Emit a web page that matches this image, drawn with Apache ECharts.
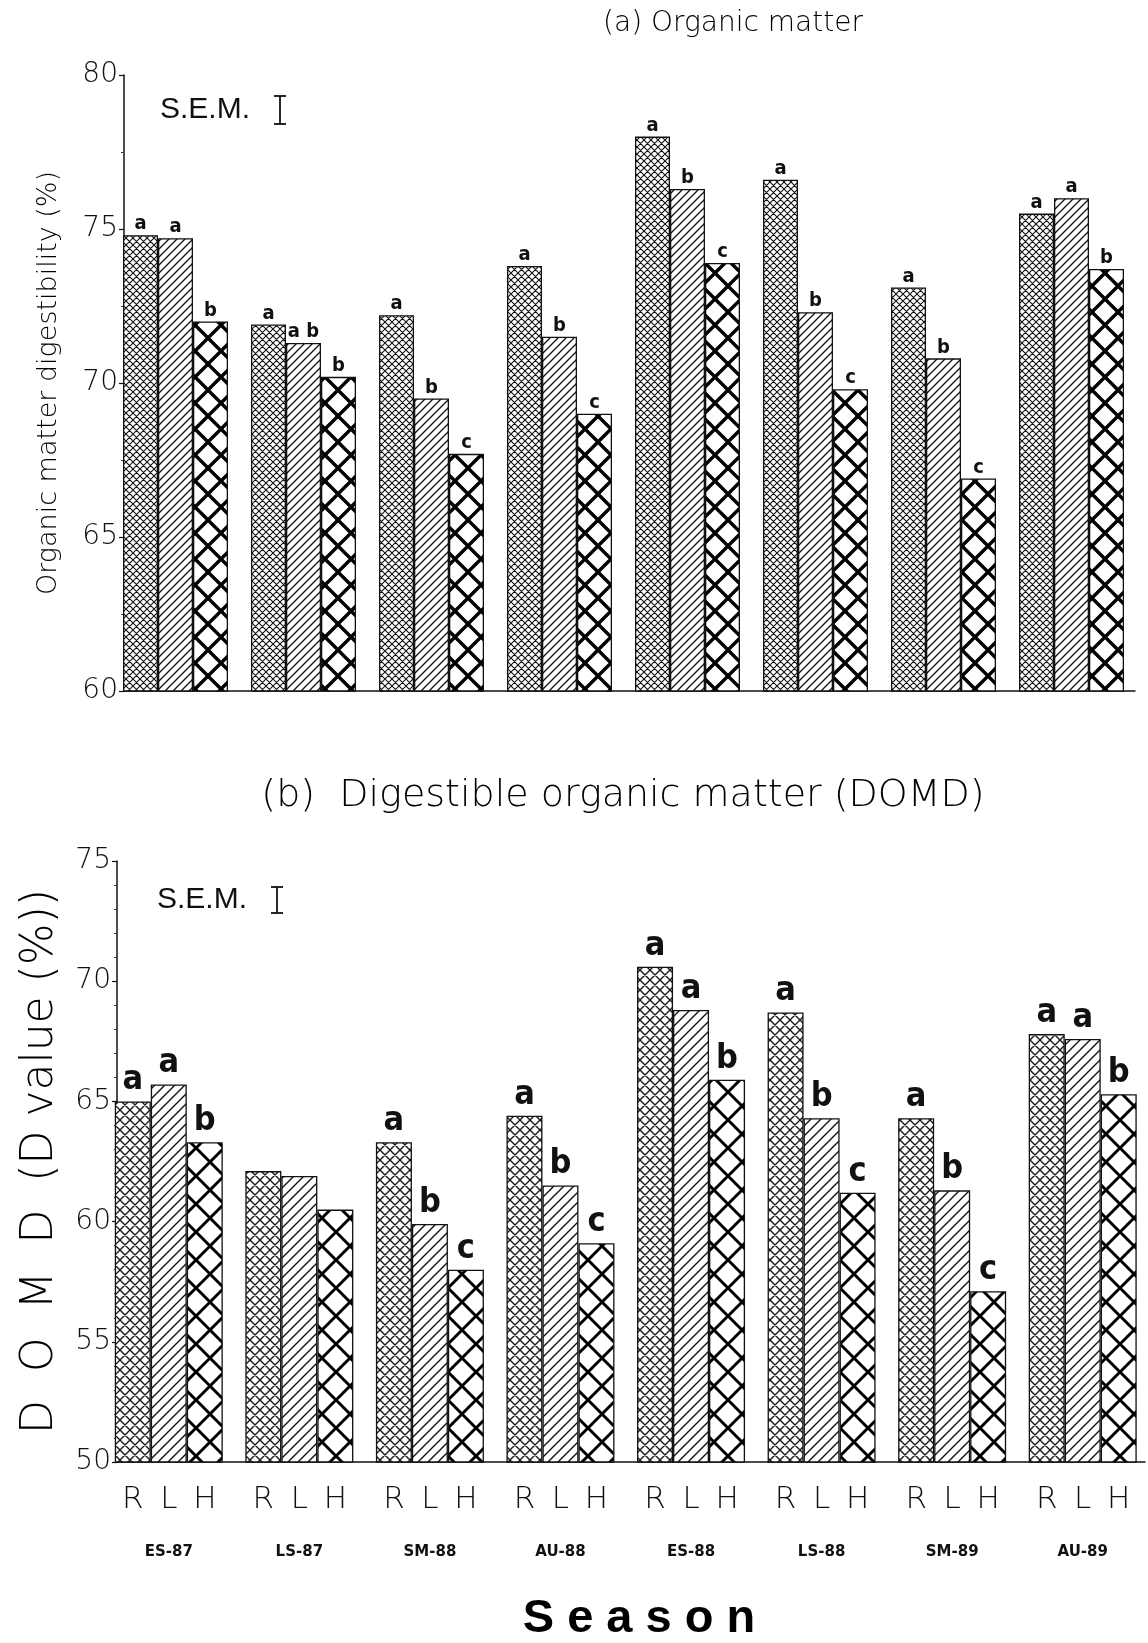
<!DOCTYPE html>
<html>
<head>
<meta charset="utf-8">
<script src="https://cdn.jsdelivr.net/npm/echarts@6/dist/echarts.min.js"></script>
<style>
  html, body { margin: 0; padding: 0; background: #fff; }
  #chart { width: 1148px; height: 1643px; }
</style>
</head>
<body>
<div id="chart"></div>
<script>
// Seasons and treatments
const seasons = ['ES-87', 'LS-87', 'SM-88', 'AU-88', 'ES-88', 'LS-88', 'SM-89', 'AU-89'];
const treatments = ['R', 'L', 'H'];

// (a) Organic matter digestibility (%)
const omdR = [74.8, 71.9, 72.2, 73.8, 78.0, 76.6, 73.1, 75.5];
const omdL = [74.7, 71.3, 69.5, 71.5, 76.3, 72.3, 70.8, 76.0];
const omdH = [72.0, 70.2, 67.7, 69.0, 73.9, 69.8, 66.9, 73.7];
const omdLetterR = ['a', 'a', 'a', 'a', 'a', 'a', 'a', 'a'];
const omdLetterL = ['a', 'a b', 'b', 'b', 'b', 'b', 'b', 'a'];
const omdLetterH = ['b', 'b', 'c', 'c', 'c', 'c', 'c', 'b'];
const omdAxis = { min: 60, max: 80, step: 5 };

// (b) DOMD (D value, %)
const domdR = [65.0, 62.1, 63.3, 64.4, 70.6, 68.7, 64.3, 67.8];
const domdL = [65.7, 61.9, 59.9, 61.5, 68.8, 64.3, 61.3, 67.6];
const domdH = [63.3, 60.5, 58.0, 59.1, 65.9, 61.2, 57.1, 65.3];
const domdLetterR = ['a', '', 'a', 'a', 'a', 'a', 'a', 'a'];
const domdLetterL = ['a', '', 'b', 'b', 'a', 'b', 'b', 'a'];
const domdLetterH = ['b', '', 'c', 'c', 'b', 'c', 'c', 'b'];
const domdAxis = { min: 50, max: 75, step: 5 };

// ---- layout ----
const W = 1148;
const TOP = { left: 111.5, right: 12.5, top: 75, height: 616, shift: 12.5, bar: 35 };
const BOT = { left: 103.5, right: -5.5, top: 861, height: 601, shift: 13.5, bar: 36 };
const INK = '#111';
const THIN = "'DejaVu Sans', sans-serif";
const NARROW = "'DejaVu Sans Condensed', 'Liberation Sans Narrow', 'Liberation Sans', sans-serif";

// ---- hatch fills ----
function hatch(size, lw, slash, back, color) {
  const c = document.createElement('canvas');
  c.width = size; c.height = size;
  const g = c.getContext('2d');
  g.fillStyle = '#fff';
  g.fillRect(0, 0, size, size);
  g.strokeStyle = color;
  g.lineWidth = lw;
  g.beginPath();
  for (let k = -1; k <= 2; k++) {
    if (slash) { g.moveTo(-size, k * size + size); g.lineTo(2 * size, k * size - 2 * size); }
    if (back) { g.moveTo(k * size - size, -size); g.lineTo(k * size + 2 * size, 2 * size); }
  }
  g.stroke();
  return { image: c, repeat: 'repeat' };
}

const fillTop = [hatch(7, 1.1, true, true, '#111'), hatch(8, 1.3, true, false, '#111'), hatch(26, 3.4, true, true, '#000')];
const fillBot = [hatch(10, 1.4, true, true, '#1a1a1a'), hatch(10, 1.4, true, false, '#111'), hatch(28, 3.0, true, true, '#000')];

function barSeries(name, data, letters, idx, fill, barW, fontSize, dist) {
  return {
    name: name,
    type: 'bar',
    xAxisIndex: idx,
    yAxisIndex: idx,
    data: data,
    barWidth: barW,
    barGap: '0%',
    itemStyle: { color: fill, borderColor: INK, borderWidth: 1.3 },
    label: {
      show: true,
      position: 'top',
      distance: dist,
      formatter: p => letters[p.dataIndex],
      fontFamily: NARROW,
      fontWeight: 'bold',
      fontSize: fontSize,
      color: INK
    },
    silent: true,
    animation: false
  };
}

function valueAxis(idx, ax, L, name, nameSize, nameGap, minorSplit) {
  return {
    type: 'value',
    gridIndex: idx,
    min: ax.min, max: ax.max, interval: ax.step,
    offset: -L.shift,
    name: name,
    nameLocation: 'middle',
    nameRotate: 90,
    nameGap: nameGap,
    nameTextStyle: { fontFamily: THIN, fontWeight: 200, fontSize: nameSize, color: '#000' },
    axisLine: { show: true, lineStyle: { color: INK, width: 1.5 } },
    axisTick: { show: true, length: 5, lineStyle: { color: INK, width: 1.2 } },
    minorTick: { show: true, splitNumber: minorSplit, length: 3, lineStyle: { color: '#333', width: 1 } },
    splitLine: { show: false },
    axisLabel: { fontFamily: THIN, fontWeight: 200, fontSize: 28, color: INK, margin: 6 }
  };
}

const chart = echarts.init(document.getElementById('chart'), null, { renderer: 'canvas' });

const option = {
  backgroundColor: '#fff',
  animation: false,
  grid: [
    { left: TOP.left, right: TOP.right, top: TOP.top, height: TOP.height },
    { left: BOT.left, right: BOT.right, top: BOT.top, height: BOT.height }
  ],
  xAxis: [
    {
      type: 'category', gridIndex: 0, data: seasons,
      axisLine: { show: false }, axisTick: { show: false }, axisLabel: { show: false }
    },
    {
      type: 'category', gridIndex: 1, data: seasons,
      axisLine: { show: false }, axisTick: { show: false },
      axisLabel: {
        margin: 21,
        interval: 0,
        formatter: v => '{t|' + treatments[0] + '}{t|' + treatments[1] + '}{t|' + treatments[2] + '}\n{s|' + v + '}',
        rich: {
          t: { width: BOT.bar, align: 'center', fontFamily: THIN, fontWeight: 200, fontSize: 31, lineHeight: 34, color: INK },
          s: { fontFamily: THIN, fontWeight: 'bold', fontSize: 15, lineHeight: 70, color: INK, align: 'center' }
        }
      }
    }
  ],
  yAxis: [
    valueAxis(0, omdAxis, TOP, 'Organic matter digestibility (%)', 27, 62, 2),
    valueAxis(1, domdAxis, BOT, 'D  O  M  D  (D value (%))', 44, 54, 5)
  ],
  series: [
    barSeries('R', omdR, omdLetterR, 0, fillTop[0], TOP.bar, 20, 1),
    barSeries('L', omdL, omdLetterL, 0, fillTop[1], TOP.bar, 20, 1),
    barSeries('H', omdH, omdLetterH, 0, fillTop[2], TOP.bar, 20, 1),
    barSeries('R', domdR, domdLetterR, 1, fillBot[0], BOT.bar, 34, 4),
    barSeries('L', domdL, domdLetterL, 1, fillBot[1], BOT.bar, 34, 4),
    barSeries('H', domdH, domdLetterH, 1, fillBot[2], BOT.bar, 34, 4)
  ]
};
chart.setOption(option);

// Baselines (from the y axis to the right end of each panel), titles and S.E.M. keys
const y0Top = chart.convertToPixel({ yAxisIndex: 0 }, omdAxis.min);
const y0Bot = chart.convertToPixel({ yAxisIndex: 1 }, domdAxis.min);

function semKey(x, y, h) {
  return {
    type: 'group',
    children: [
      { type: 'text', x: x, y: y, style: { text: 'S.E.M.', fontFamily: "'Liberation Sans', Arial, sans-serif", fontSize: 30, fill: INK, verticalAlign: 'middle' } },
      { type: 'line', shape: { x1: x + 120, y1: y - h / 2, x2: x + 120, y2: y + h / 2 }, style: { stroke: INK, lineWidth: 1.8 } },
      { type: 'line', shape: { x1: x + 114, y1: y - h / 2, x2: x + 126, y2: y - h / 2 }, style: { stroke: INK, lineWidth: 1.8 } },
      { type: 'line', shape: { x1: x + 114, y1: y + h / 2, x2: x + 126, y2: y + h / 2 }, style: { stroke: INK, lineWidth: 1.8 } }
    ]
  };
}

chart.setOption({
  graphic: [
    { type: 'line', shape: { x1: TOP.left + TOP.shift, y1: y0Top, x2: W - TOP.right, y2: y0Top }, style: { stroke: INK, lineWidth: 1.5 } },
    { type: 'line', shape: { x1: BOT.left + BOT.shift, y1: y0Bot, x2: W - BOT.right - 8, y2: y0Bot }, style: { stroke: INK, lineWidth: 1.5 } },
    { type: 'text', x: 733, y: 24, style: { text: '(a) Organic matter', fontFamily: THIN, fontWeight: 200, fontSize: 28, fill: '#000', align: 'center', verticalAlign: 'middle' } },
    { type: 'text', x: 623, y: 796, style: { text: '(b)  Digestible organic matter (DOMD)', fontFamily: THIN, fontWeight: 200, fontSize: 38, fill: '#000', align: 'center', verticalAlign: 'middle' } },
    { type: 'text', x: 639, y: 1619, style: { text: 'S e a s o n', fontFamily: "'Liberation Sans', Arial, sans-serif", fontWeight: 'bold', fontSize: 47, fill: '#000', align: 'center', verticalAlign: 'middle' } },
    semKey(160, 110, 28),
    semKey(157, 900, 26)
  ]
});
</script>
</body>
</html>
